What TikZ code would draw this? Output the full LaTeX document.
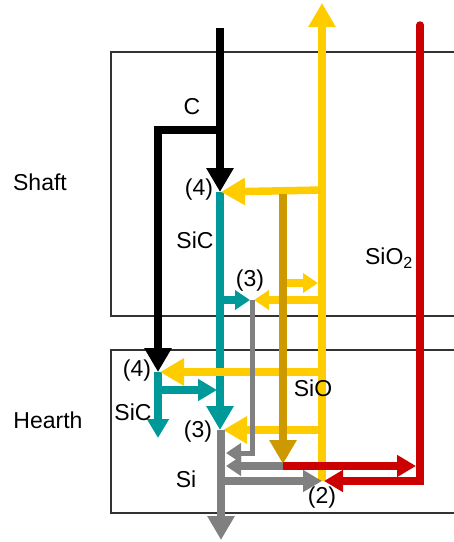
\documentclass[tikz,border=0pt]{standalone}
\usepackage{fontspec}
\setmainfont{Liberation Sans}
\usetikzlibrary{arrows.meta}
\definecolor{cyel}{HTML}{FFCC00}
\definecolor{cgold}{HTML}{CC9900}
\definecolor{cteal}{HTML}{009999}
\definecolor{cgray}{HTML}{808080}
\definecolor{cred}{HTML}{CC0000}
\begin{document}
\begin{tikzpicture}[x=1pt,y=-1pt,
  flow/.style={line width=7.5pt},
  thinflow/.style={line width=5pt},
  big/.style={-{Triangle[length=24pt,width=26pt]}},
  mid/.style={-{Triangle[length=19pt,width=21pt]}},
  small/.style={-{Triangle[length=15pt,width=19pt]}},
  lbl/.style={inner sep=0pt, font=\fontsize{23}{27}\selectfont},
  zone/.style={draw=black!80, line width=1.3pt}]
\useasboundingbox (0,0) rectangle (454,542);

% zones
\draw[zone] (455,52) -- (111,52) -- (111,316) -- (455,316);
\draw[zone] (455,350) -- (111,350) -- (111,513) -- (455,513);
\node[lbl] (shaft) at (40,182) {Shaft};
\node[lbl] (hearth) at (48,420) {Hearth};

% key points
\coordinate (cIn) at (220,28);
\coordinate (cSplit) at (220,130);
\coordinate (cCorner) at (158,130);
\coordinate (p4s) at (220,192);
\coordinate (p4h) at (158,372);
\coordinate (p3s) at (252,300);
\coordinate (p3h) at (221,430);
\coordinate (p2) at (322,481);
\coordinate (yTop) at (322,3);
\coordinate (yS1) at (322,190);
\coordinate (yS3) at (322,300);
\coordinate (yH1) at (322,372);
\coordinate (yH2) at (322,430);
\coordinate (gTop) at (283,194);
\coordinate (gBot) at (283,464);
\coordinate (gMid) at (283,283);
\coordinate (gMidt) at (318,283);
\coordinate (gyS3) at (254,300);
\coordinate (tS0) at (220,300);
\coordinate (tS3) at (250,300);
\coordinate (tH3) at (220,430);
\coordinate (tHb) at (158,438);
\coordinate (tHr0) at (158,390);
\coordinate (tHr) at (217,390);
\coordinate (grA) at (252,453);
\coordinate (grAt) at (226,453);
\coordinate (grB) at (283,466);
\coordinate (grBt) at (226,466);
\coordinate (grC) at (221,481);
\coordinate (grOut) at (221,540);
\coordinate (rTop) at (420,25);
\coordinate (rBot) at (420,481);
\coordinate (rRt) at (416,466);
\coordinate (rLt) at (324,481);
\coordinate (yH1t) at (160,372);
\coordinate (yH2t) at (223,430);
\coordinate (yS1t) at (221,192);

% teal (SiC)
\draw[flow, cteal, big] (p4s) -- (tH3);
\draw[flow, cteal, small] (tS0) -- (tS3);
\draw[flow, cteal, mid] (p4h) -- (tHb);
\draw[flow, cteal, mid] (tHr0) -- (tHr);

% yellow (SiO)
\draw[flow, cyel, big] (p2) -- (yTop);
\draw[flow, cyel, big] (yS1) -- (yS1t);
\draw[flow, cyel, small] (gMid) -- (gMidt);
\draw[flow, cyel, small] (yS3) -- (gyS3);
\draw[flow, cyel, big] (yH1) -- (yH1t);
\draw[flow, cyel, big] (yH2) -- (yH2t);

% gray (Si)
\draw[thinflow, cgray, small] (p3s) -- (grA) -- (grAt);
\draw[flow, cgray, small] (grB) -- (grBt);
\draw[flow, cgray, mid] (grC) -- (p2);
\draw[flow, cgray, big] (p3h) -- (grOut);

% goldenrod
\draw[flow, cgold, big] (gTop) -- (gBot);

% red (SiO2)
\draw[flow, cred, mid] (grB) -- (rRt);
\draw[flow, cred, mid, line cap=round] (rTop) -- (rBot) -- (rLt);

% black (C)
\draw[flow, black, big] (cIn) -- (p4s);
\draw[flow, black, big] (cSplit) -- (cCorner) -- (p4h);

% labels
\node[lbl] (lC) at (192,107) {C};
\node[lbl] (l4s) at (199,190) {(4)};
\node[lbl] (lSiCs) at (195,240) {SiC};
\node[lbl] (l3s) at (250,281) {(3)};
\node[lbl] (lSiO2) at (389,258) {SiO\textsubscript{2}};
\node[lbl] (l4h) at (137,371) {(4)};
\node[lbl] (lSiCh) at (133,412) {SiC};
\node[lbl] (lSiO) at (313,388) {SiO};
\node[lbl] (l3h) at (198,432) {(3)};
\node[lbl] (lSi) at (186,479) {Si};
\node[lbl] (l2) at (322,498) {(2)};
\end{tikzpicture}
\end{document}
